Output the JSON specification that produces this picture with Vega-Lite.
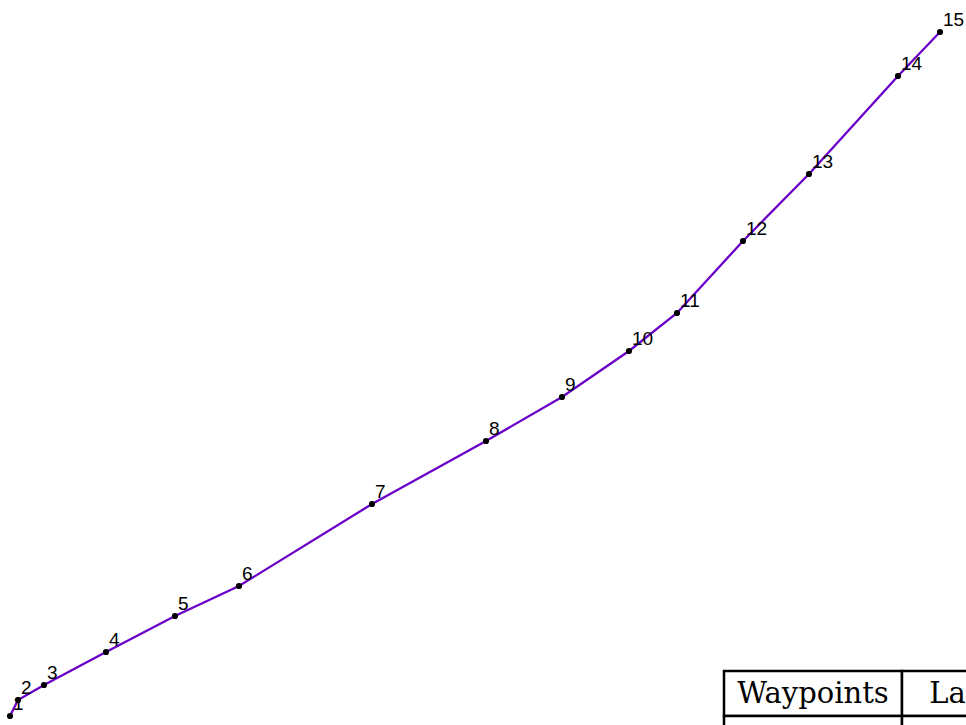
{
  "$schema": "https://vega.github.io/schema/vega-lite/v6.json",
  "width": 966,
  "height": 725,
  "padding": 0,
  "autosize": {"type": "none"},
  "background": "white",
  "view": {"stroke": null},
  "datasets": {
    "route": [
      {"wp": 1, "x": 10, "y": 716},
      {"wp": 2, "x": 18, "y": 700},
      {"wp": 3, "x": 44, "y": 685},
      {"wp": 4, "x": 106, "y": 652},
      {"wp": 5, "x": 175, "y": 616},
      {"wp": 6, "x": 239, "y": 586},
      {"wp": 7, "x": 372, "y": 504},
      {"wp": 8, "x": 486, "y": 441},
      {"wp": 9, "x": 562, "y": 397},
      {"wp": 10, "x": 629, "y": 351},
      {"wp": 11, "x": 677, "y": 313},
      {"wp": 12, "x": 743, "y": 241},
      {"wp": 13, "x": 809, "y": 174},
      {"wp": 14, "x": 898, "y": 76},
      {"wp": 15, "x": 940, "y": 32}
    ],
    "cells": [
      {"x1": 724, "x2": 902, "y1": 671, "y2": 716},
      {"x1": 902, "x2": 1200, "y1": 671, "y2": 716},
      {"x1": 724, "x2": 902, "y1": 716, "y2": 800},
      {"x1": 902, "x2": 1200, "y1": 716, "y2": 800}
    ],
    "headers": [
      {"text": "Waypoints", "x": 813, "y": 703},
      {"text": "Latitude", "x": 991, "y": 703}
    ]
  },
  "layer": [
    {
      "data": {"name": "route"},
      "mark": {"type": "line", "color": "#6a00c8", "strokeWidth": 2.3},
      "encoding": {
        "x": {"field": "x", "type": "quantitative", "scale": {"domain": [0, 966], "nice": false, "zero": false}, "axis": null},
        "y": {"field": "y", "type": "quantitative", "scale": {"domain": [0, 725], "nice": false, "zero": false, "reverse": true}, "axis": null},
        "order": {"field": "wp"}
      }
    },
    {
      "data": {"name": "route"},
      "mark": {"type": "circle", "color": "black", "size": 38, "opacity": 1},
      "encoding": {
        "x": {"field": "x", "type": "quantitative"},
        "y": {"field": "y", "type": "quantitative"}
      }
    },
    {
      "data": {"name": "route"},
      "mark": {"type": "text", "font": "Liberation Sans", "fontSize": 19, "align": "left", "baseline": "alphabetic", "dx": 3, "dy": -6, "color": "black"},
      "encoding": {
        "x": {"field": "x", "type": "quantitative"},
        "y": {"field": "y", "type": "quantitative"},
        "text": {"field": "wp", "type": "nominal"}
      }
    },
    {
      "data": {"name": "cells"},
      "mark": {"type": "rect", "fill": "white", "stroke": "black", "strokeWidth": 2.5, "clip": true},
      "encoding": {
        "x": {"field": "x1", "type": "quantitative"},
        "x2": {"field": "x2"},
        "y": {"field": "y1", "type": "quantitative"},
        "y2": {"field": "y2"}
      }
    },
    {
      "data": {"name": "headers"},
      "mark": {"type": "text", "font": "DejaVu Serif", "fontSize": 29, "align": "center", "baseline": "alphabetic", "color": "black", "clip": true},
      "encoding": {
        "x": {"field": "x", "type": "quantitative"},
        "y": {"field": "y", "type": "quantitative"},
        "text": {"field": "text", "type": "nominal"}
      }
    }
  ]
}
